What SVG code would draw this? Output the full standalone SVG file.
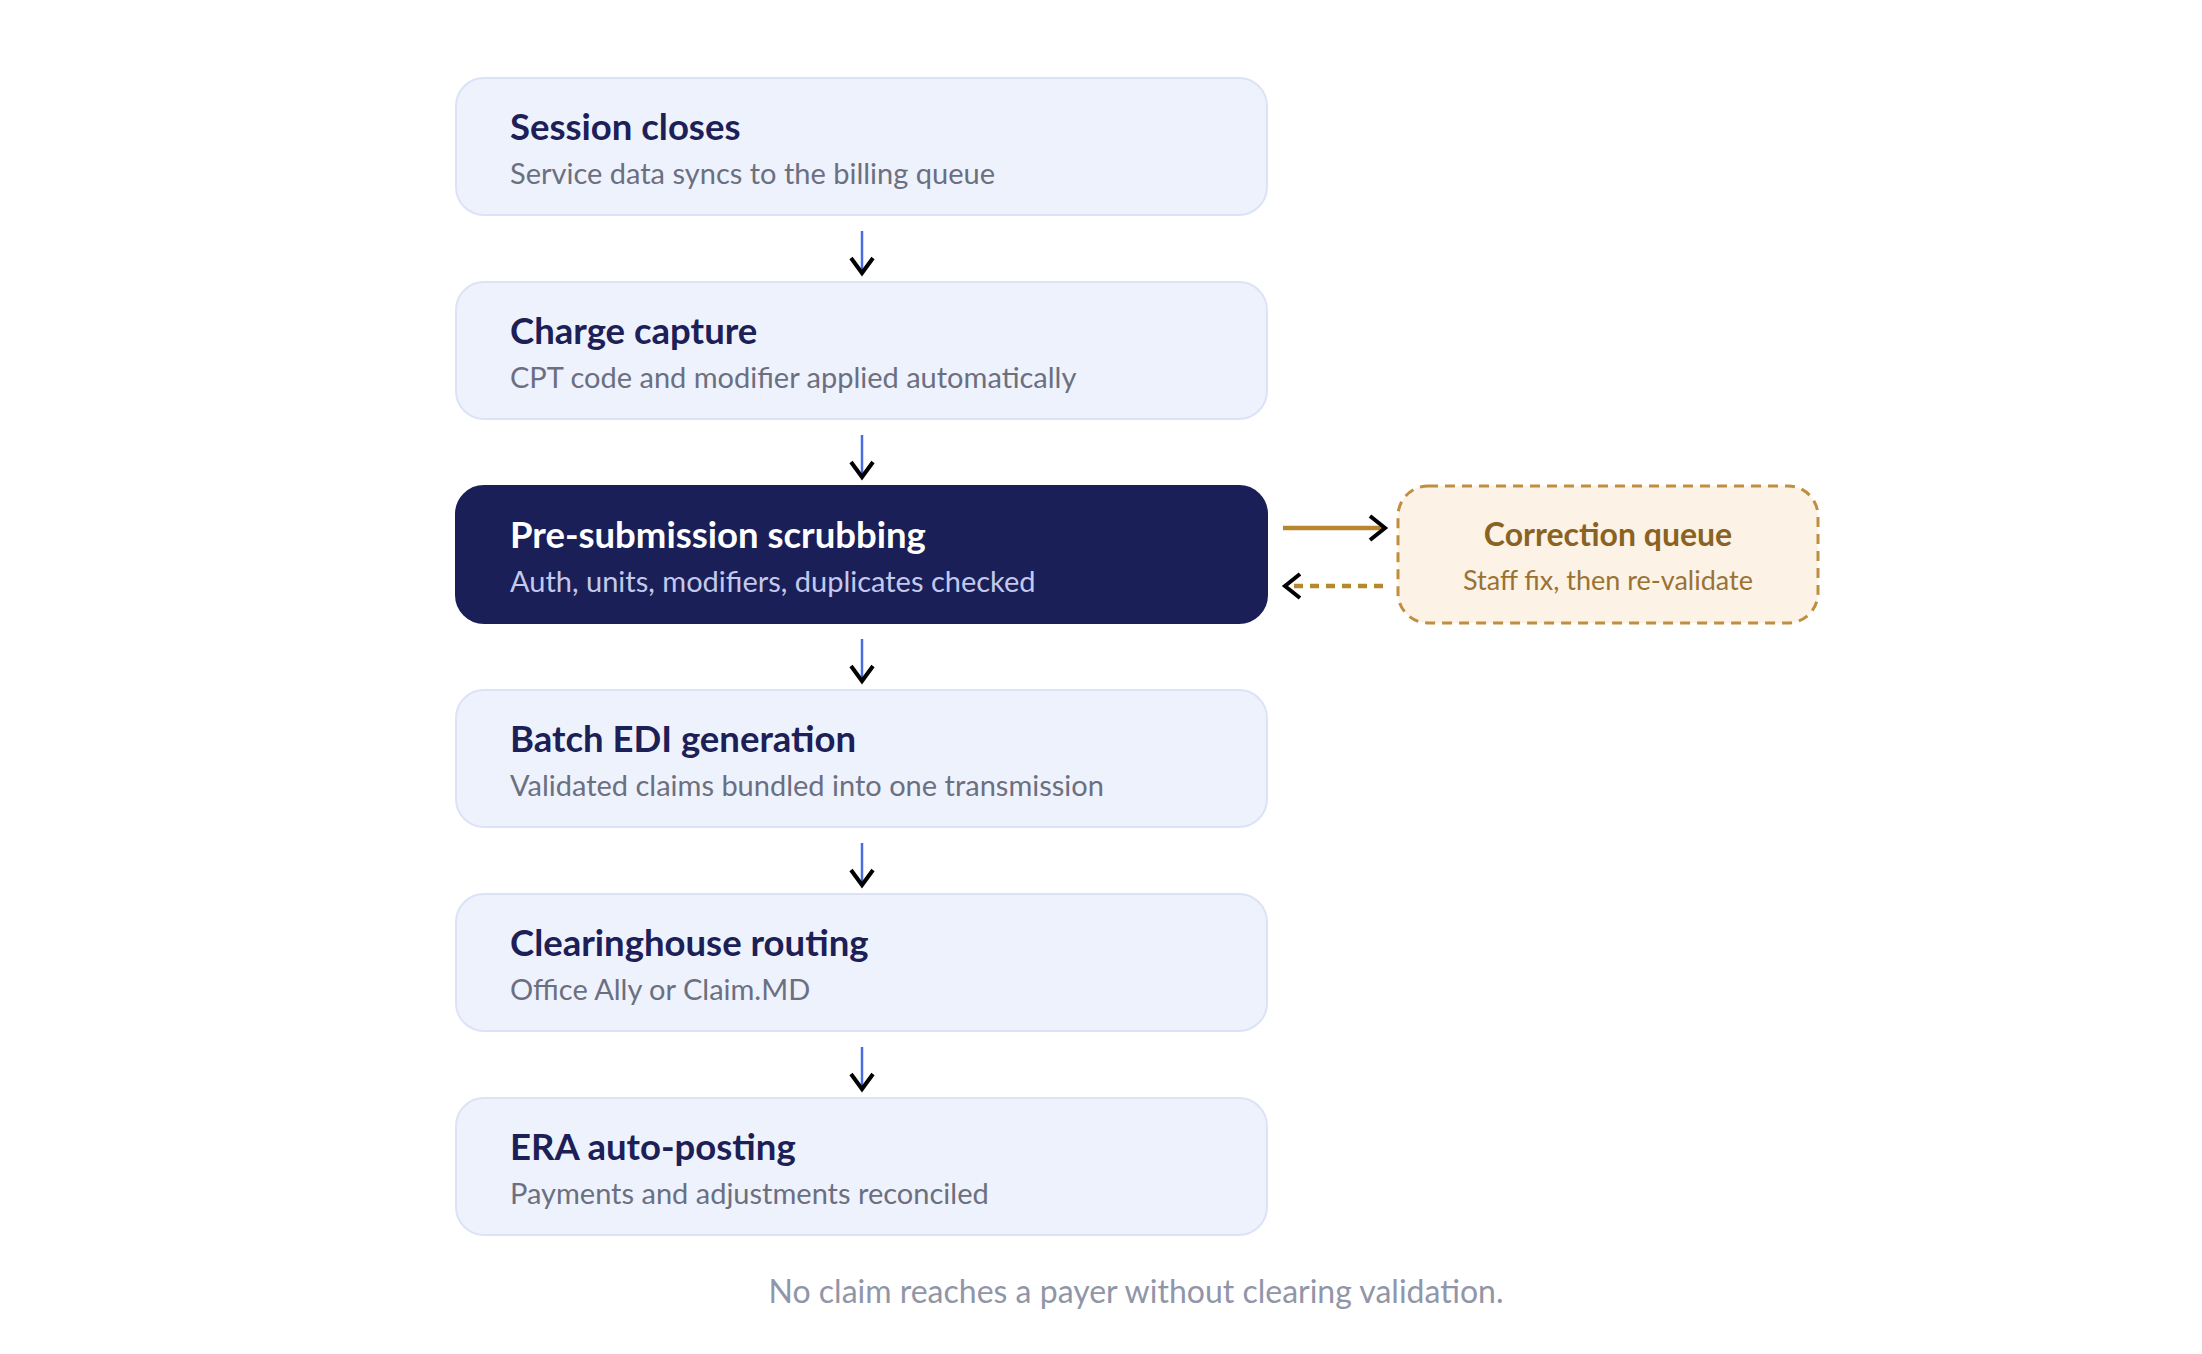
<svg xmlns="http://www.w3.org/2000/svg" width="2202" height="1354" viewBox="0 0 2202 1354">
<defs>
<style>
.box{fill:#eef2fd;stroke:#dce3f6;stroke-width:2}
.dark{fill:#1b1f57;stroke:#1b1f57;stroke-width:2}
.t{font-family:Lato,"Liberation Sans",sans-serif;font-weight:700;font-size:36.5px;fill:#1c2057}
.s{font-family:Lato,"Liberation Sans",sans-serif;font-weight:400;font-size:29px;fill:#6b6f80}
.tw{fill:#ffffff}
.sw{fill:#c3c9ec}
.cq{fill:#fcf2e6;stroke:#bf8e3e;stroke-width:3;stroke-dasharray:10 7}
.ct{font-family:Lato,"Liberation Sans",sans-serif;font-weight:700;font-size:32px;fill:#8a6323;text-anchor:middle}
.cs{font-family:Lato,"Liberation Sans",sans-serif;font-weight:400;font-size:27px;fill:#9a7234;text-anchor:middle}
.v{stroke:#4a6ee0;stroke-width:2.5;fill:none}
.g{stroke:#b8862f;stroke-width:4.5;fill:none}
.gd{stroke:#b8862f;stroke-width:4.5;fill:none;stroke-dasharray:9 7}
.foot{font-family:Lato,"Liberation Sans",sans-serif;font-size:32px;fill:#9096a8;text-anchor:middle}
</style>
<marker id="hv" markerUnits="userSpaceOnUse" markerWidth="26" markerHeight="26" viewBox="-3 -13 22 26" refX="16" refY="0" orient="auto">
<path d="M1,-11 L16,0 L1,11" fill="none" stroke="#000" stroke-width="4"/>
</marker>
<marker id="hh" markerUnits="userSpaceOnUse" markerWidth="26" markerHeight="30" viewBox="-3 -15 22 30" refX="16" refY="0" orient="auto">
<path d="M1,-12 L16,0 L1,12" fill="none" stroke="#000" stroke-width="4"/>
</marker>
</defs>
<rect width="2202" height="1354" fill="#ffffff"/>
<g id="n1"><rect class="box" x="456" y="78" width="811" height="137" rx="28"/><text class="t" x="510" y="140">Session closes</text><text class="s" x="510" y="184">Service data syncs to the billing queue</text></g>
<g id="n2"><rect class="box" x="456" y="282" width="811" height="137" rx="28"/><text class="t" x="510" y="344">Charge capture</text><text class="s" x="510" y="388">CPT code and modifier applied automatically</text></g>
<g id="n3"><rect class="dark" x="456" y="486" width="811" height="137" rx="28"/><text class="t tw" x="510" y="548">Pre-submission scrubbing</text><text class="s sw" x="510" y="592">Auth, units, modifiers, duplicates checked</text></g>
<g id="n4"><rect class="box" x="456" y="690" width="811" height="137" rx="28"/><text class="t" x="510" y="752">Batch EDI generation</text><text class="s" x="510" y="796">Validated claims bundled into one transmission</text></g>
<g id="n5"><rect class="box" x="456" y="894" width="811" height="137" rx="28"/><text class="t" x="510" y="956">Clearinghouse routing</text><text class="s" x="510" y="1000">Office Ally or Claim.MD</text></g>
<g id="n6"><rect class="box" x="456" y="1098" width="811" height="137" rx="28"/><text class="t" x="510" y="1160">ERA auto-posting</text><text class="s" x="510" y="1204">Payments and adjustments reconciled</text></g>
<g id="n7"><rect class="cq" x="1398" y="486" width="420" height="137" rx="30"/><text class="ct" x="1608" y="546">Correction queue</text><text class="cs" x="1608" y="590">Staff fix, then re-validate</text></g>
<g id="connectors">
<path class="v" d="M862,231 L862,273" marker-end="url(#hv)"/>
<path class="v" d="M862,435 L862,477" marker-end="url(#hv)"/>
<path class="v" d="M862,639 L862,681" marker-end="url(#hv)"/>
<path class="v" d="M862,843 L862,885" marker-end="url(#hv)"/>
<path class="v" d="M862,1047 L862,1089" marker-end="url(#hv)"/>
<path class="g" d="M1283,528 L1385,528" marker-end="url(#hh)"/>
<path class="gd" d="M1383,586 L1285,586" marker-end="url(#hh)"/>
</g>
<text class="foot" x="1136" y="1303">No claim reaches a payer without clearing validation.</text>
</svg>
